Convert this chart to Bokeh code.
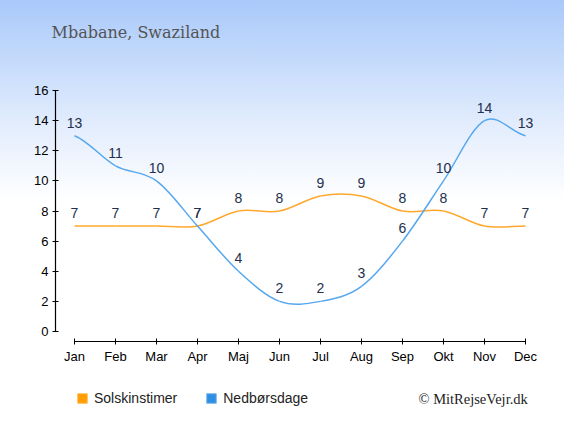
from bokeh.plotting import figure
from bokeh.models import (FixedTicker, Label, Legend, LegendItem, ColumnDataSource)
from bokeh.core.properties import value
from bokeh.embed import file_html
from bokeh.resources import INLINE

months = ["Jan", "Feb", "Mar", "Apr", "Maj", "Jun", "Jul", "Aug", "Sep", "Okt", "Nov", "Dec"]
sun_hours = [7, 7, 7, 7, 8, 8, 9, 9, 8, 8, 7, 7]
rain_days = [13, 11, 10, 7, 4, 2, 2, 3, 6, 10, 14, 13]
y_ticks = [0, 2, 4, 6, 8, 10, 12, 14, 16]
title_text = "Mbabane, Swaziland"
series_names = ["Solskinstimer", "Nedbørsdage"]
credit_text = "© MitRejseVejr.dk"

ORANGE_LINE = "#FFA82E"
BLUE_LINE = "#55A7EE"
ORANGE_MARK = "#FF9C00"
BLUE_MARK = "#2D8FE3"
LABEL_COLOR = "#22304D"

W, H = 564, 419
xs = list(range(len(months)))

# pixel layout of the plotting area (frame spans the whole figure)
PX_X0, PX_PER_MONTH = 74, 41.0          # x pixel of Jan, pixels per month
PX_Y0, PX_PER_UNIT = 331, 241 / 16.0    # y pixel of value 0, pixels per unit

x_start = -PX_X0 / PX_PER_MONTH
x_end = (W - PX_X0) / PX_PER_MONTH
y_end = PX_Y0 / PX_PER_UNIT
y_start = -(H - PX_Y0) / PX_PER_UNIT

p = figure(width=W, height=H, output_backend="svg", toolbar_location=None,
           x_range=(x_start, x_end), y_range=(y_start, y_end), min_border=0)
p.background_fill_alpha = 0
p.border_fill_alpha = 0
p.outline_line_color = None
p.styles = {"background": "linear-gradient(180deg, #a9c9fa 0%, #e3edfd 30%, #ffffff 48%, #ffffff 100%)"}
p.grid.visible = False


def bezier_src(vals):
    n = len(vals)
    d = dict(x0=[], y0=[], x1=[], y1=[], cx0=[], cy0=[], cx1=[], cy1=[])
    for i in range(n - 1):
        a = vals[i - 1] if i > 0 else vals[i]
        b = vals[i]
        c = vals[i + 1]
        e = vals[i + 2] if i + 2 < n else vals[i + 1]
        t0 = (c - a) / 2.0
        t1 = (e - b) / 2.0
        d["x0"].append(xs[i]); d["y0"].append(b)
        d["x1"].append(xs[i + 1]); d["y1"].append(c)
        d["cx0"].append(xs[i] + 1 / 3); d["cy0"].append(b + t0 / 3)
        d["cx1"].append(xs[i + 1] - 1 / 3); d["cy1"].append(c - t1 / 3)
    return ColumnDataSource(d)


p.bezier(x0="x0", y0="y0", x1="x1", y1="y1", cx0="cx0", cy0="cy0", cx1="cx1", cy1="cy1",
         source=bezier_src(sun_hours), line_color=ORANGE_LINE, line_width=1.5)
p.bezier(x0="x0", y0="y0", x1="x1", y1="y1", cx0="cx0", cy0="cy0", cx1="cx1", cy1="cy1",
         source=bezier_src(rain_days), line_color=BLUE_LINE, line_width=1.5)

for vals in (sun_hours, rain_days):
    p.text(x=xs, y=vals, text=[str(v) for v in vals], text_align="center",
           text_baseline="middle", y_offset=-13, text_color=LABEL_COLOR,
           text_font=value("Liberation Sans"), text_font_size="14px")

# axes, drawn at fixed positions inside the frame
p.xaxis.fixed_location = -10 / PX_PER_UNIT
p.yaxis.fixed_location = (55 - PX_X0) / PX_PER_MONTH
p.xaxis.ticker = FixedTicker(ticks=xs)
p.xaxis.major_label_overrides = {i: m for i, m in enumerate(months)}
p.xaxis.bounds = (0, 11)
p.yaxis.ticker = FixedTicker(ticks=y_ticks)
p.yaxis.bounds = (0, 16)
for ax in (p.xaxis, p.yaxis):
    ax.axis_line_color = "black"
    ax.axis_line_width = 1.2
    ax.major_tick_line_color = "black"
    ax.major_tick_in = 3
    ax.major_tick_out = 3
    ax.minor_tick_line_color = None
    ax.major_label_text_font = "Liberation Sans"
    ax.major_label_text_font_size = "13px"
    ax.major_label_text_color = "black"
p.xaxis.major_label_standoff = 4
p.yaxis.major_label_standoff = 4

# title & credit
p.add_layout(Label(x=51, y=H - 32, x_units="screen", y_units="screen", text=title_text,
                   text_font="DejaVu Serif", text_font_size="16px", text_color="#555555",
                   text_baseline="middle"))
p.add_layout(Label(x=418, y=H - 398, x_units="screen", y_units="screen", text=credit_text,
                   text_font="Liberation Serif", text_font_size="14.5px", text_color="#222222",
                   text_baseline="middle"))

# legend swatches: hidden rect renderers tied to each series (only shown in the legend)
r1 = p.rect(x=xs[:1], y=sun_hours[:1], width=1, height=1,
            fill_color=ORANGE_MARK, line_color="#FFC060", visible=False)
r2 = p.rect(x=xs[:1], y=rain_days[:1], width=1, height=1,
            fill_color=BLUE_MARK, line_color="#7DB8EE", visible=False)
legend = Legend(items=[LegendItem(label=series_names[0], renderers=[r1]),
                       LegendItem(label=series_names[1], renderers=[r2])],
                orientation="horizontal", location=(76, H - 406),
                background_fill_alpha=0, border_line_color=None,
                padding=0, margin=0, spacing=28, label_standoff=6,
                glyph_width=12, glyph_height=12, click_policy="none",
                label_text_font="Liberation Sans", label_text_font_size="14px",
                label_text_color="#222222", label_height=16)
p.add_layout(legend)

open("out.html", "w").write(file_html(p, INLINE))
